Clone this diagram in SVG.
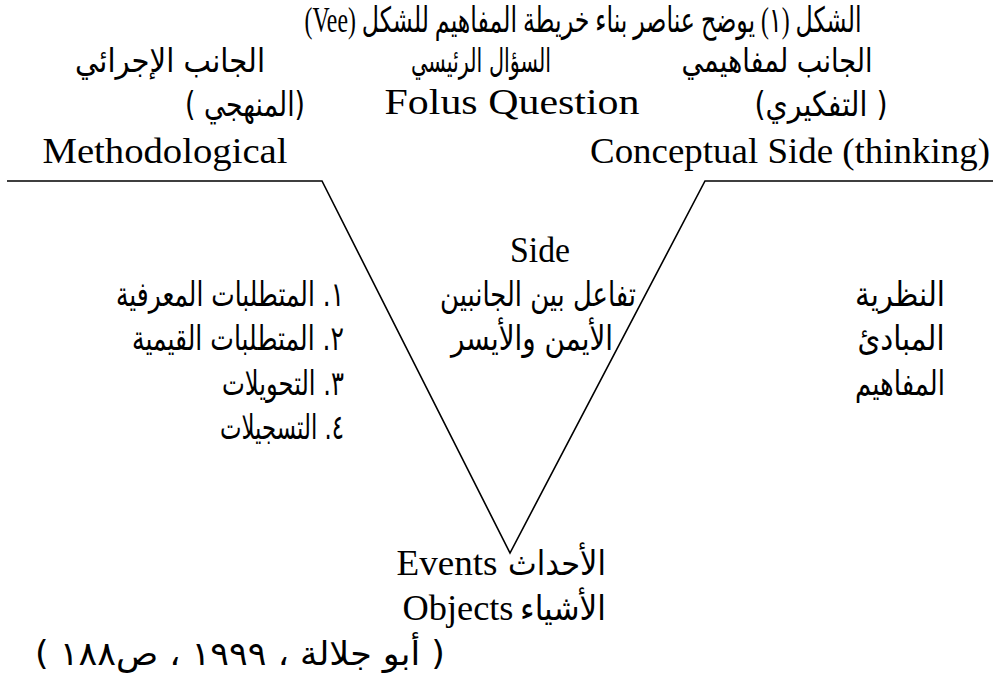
<svg xmlns="http://www.w3.org/2000/svg" width="995" height="677" viewBox="0 0 995 677">
<style>
.ar{font-family:"DejaVu Sans","Liberation Sans",sans-serif;font-size:33px;fill:#000;text-anchor:middle;direction:rtl;unicode-bidi:embed}
.tt{font-family:"Liberation Serif","DejaVu Sans",serif;font-size:35px;fill:#000;text-anchor:middle;direction:rtl;unicode-bidi:embed}
.ars{font-family:"DejaVu Sans","Liberation Serif",serif;font-size:34px;fill:#000;text-anchor:middle;direction:rtl;unicode-bidi:embed}
.en{font-family:"Liberation Serif","Times New Roman",serif;font-size:36px;fill:#000;text-anchor:middle}
.ln{stroke:#000;stroke-width:1.6;fill:none;stroke-linejoin:miter}
</style>
<rect width="995" height="677" fill="#fff"/>
<g id="connectors">
<polyline class="ln" points="7,181 322,181 510,553 705,181 993,181"/>
</g>
<g id="title"><text class="tt" x="583" y="32" textLength="557" lengthAdjust="spacingAndGlyphs">الشكل (١) يوضح عناصر بناء خريطة المفاهيم للشكل (Vee)</text></g>
<g id="conceptual-side">
<text class="ar" x="777" y="72" textLength="191" lengthAdjust="spacingAndGlyphs">الجانب لمفاهيمي</text>
<text class="ars" x="821" y="116" textLength="133" lengthAdjust="spacingAndGlyphs">( التفكيري)</text>
<text class="en" x="790" y="163" textLength="400" lengthAdjust="spacingAndGlyphs">Conceptual Side (thinking)</text>
</g>
<g id="focus-question">
<text class="ar" x="481" y="72" textLength="140" lengthAdjust="spacingAndGlyphs">السؤال الرئيسي</text>
<text class="en" x="512" y="114" textLength="255" lengthAdjust="spacingAndGlyphs">Folus Question</text>
</g>
<g id="methodological-side">
<text class="ar" x="170" y="72" textLength="190" lengthAdjust="spacingAndGlyphs">الجانب الإجرائي</text>
<text class="ars" x="245" y="116" textLength="120" lengthAdjust="spacingAndGlyphs">(المنهجي )</text>
<text class="en" x="165" y="163" textLength="245" lengthAdjust="spacingAndGlyphs">Methodological</text>
</g>
<g id="interaction">
<text class="en" x="540" y="262" textLength="60" lengthAdjust="spacingAndGlyphs">Side</text>
<text class="ars" x="538" y="306" textLength="196" lengthAdjust="spacingAndGlyphs">تفاعل بين الجانبين</text>
<text class="ars" x="532" y="350" textLength="162" lengthAdjust="spacingAndGlyphs">الأيمن والأيسر</text>
</g>
<g id="methodological-list">
<text class="ars" x="230" y="306" textLength="228" lengthAdjust="spacingAndGlyphs">١. المتطلبات المعرفية</text>
<text class="ars" x="238" y="350" textLength="212" lengthAdjust="spacingAndGlyphs">٢. المتطلبات القيمية</text>
<text class="ars" x="283" y="395" textLength="122" lengthAdjust="spacingAndGlyphs">٣. التحويلات</text>
<text class="ars" x="282" y="439" textLength="124" lengthAdjust="spacingAndGlyphs">٤. التسجيلات</text>
</g>
<g id="conceptual-list">
<text class="ars" x="900" y="306" textLength="90" lengthAdjust="spacingAndGlyphs">النظرية</text>
<text class="ars" x="901" y="350" textLength="87" lengthAdjust="spacingAndGlyphs">المبادئ</text>
<text class="ars" x="900" y="395" textLength="90" lengthAdjust="spacingAndGlyphs">المفاهيم</text>
</g>
<g id="events">
<text class="en" x="447" y="575" textLength="101" lengthAdjust="spacingAndGlyphs">Events</text>
<text class="ars" x="557" y="575" textLength="98" lengthAdjust="spacingAndGlyphs">الأحداث</text>
</g>
<g id="objects">
<text class="en" x="458" y="620" textLength="111" lengthAdjust="spacingAndGlyphs">Objects</text>
<text class="ars" x="563" y="620" textLength="86" lengthAdjust="spacingAndGlyphs">الأشياء</text>
</g>
<g id="citation">
<text class="ar" x="240" y="665" textLength="410" lengthAdjust="spacingAndGlyphs">( أبو جلالة ، ١٩٩٩ ، ص١٨٨  )</text>
</g>
</svg>
